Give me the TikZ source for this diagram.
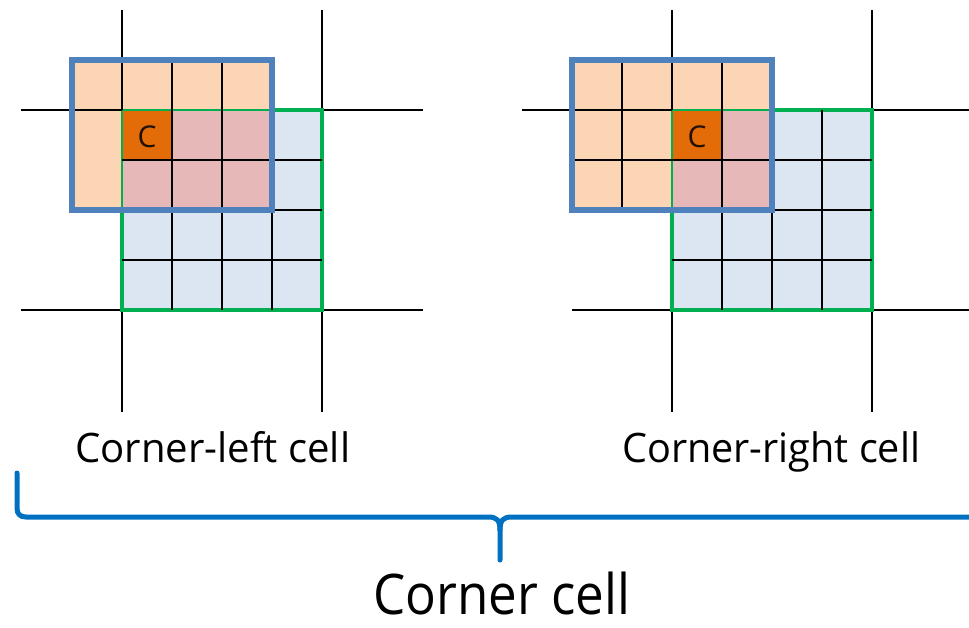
\documentclass[tikz,border=0pt]{standalone}
\usepackage{fontspec}
\setmainfont{Open Sans}
\usepackage{graphicx}
\definecolor{lorange}{HTML}{FCD5B5}
\definecolor{pinkc}{HTML}{E6B9B8}
\definecolor{dorange}{HTML}{E36C09}
\definecolor{lblue}{HTML}{DCE6F2}
\definecolor{bborder}{HTML}{4F81BD}
\definecolor{gborder}{HTML}{00B050}
\definecolor{brace}{HTML}{0070C0}
\tikzset{
  gridline/.style={black, line width=1.8pt},
  blueframe/.style={bborder, line width=5.5pt},
  greenout/.style={gborder, line width=3.5pt},
  greenin/.style={gborder, line width=1.6pt},
  bracestyle/.style={brace, line width=5pt, line cap=round, line join=round},
  lbl/.style={inner sep=0pt, anchor=base west},
  cellc/.style={inner sep=0pt, text=black!85!dorange, font=\fontsize{30}{36}\selectfont},
}
\begin{document}
\begin{tikzpicture}[x=1pt,y=-1pt]
\useasboundingbox (0,0) rectangle (969,628);
% ---------- LEFT PANEL ----------
\draw[gridline] (122,10) -- (122,412);
\draw[gridline] (322,10) -- (322,412);
\draw[gridline] (21,110) -- (423,110);
\draw[gridline] (21,310) -- (423,310);
\fill[lblue] (122,110) rectangle (322,310);
\fill[lorange] (72,60) rectangle (272,210);
\fill[pinkc] (122,110) rectangle (272,210);
\fill[dorange] (122,110) rectangle (172,160);
\draw[greenout] (272,110) -- (322,110) -- (322,310) -- (122,310) -- (122,210);
\draw[greenin] (122,210) -- (122,110) -- (272,110);
\draw[gridline] (122,60) -- (122,110);
\draw[gridline] (72,110) -- (122,110);
\draw[gridline] (172,60) -- (172,310);
\draw[gridline] (222,60) -- (222,310);
\draw[gridline] (272,110) -- (272,310);
\draw[gridline] (122,160) -- (322,160);
\draw[gridline] (122,210) -- (322,210);
\draw[gridline] (122,260) -- (322,260);
\draw[blueframe] (72,60) rectangle (272,210);
\node[cellc] (cl) at (147,137) {C};
% ---------- RIGHT PANEL ----------
\draw[gridline] (672,10) -- (672,412);
\draw[gridline] (872,10) -- (872,412);
\draw[gridline] (522,110) -- (969,110);
\draw[gridline] (572,310) -- (969,310);
\fill[lblue] (672,110) rectangle (872,310);
\fill[lorange] (572,60) rectangle (772,210);
\fill[pinkc] (672,110) rectangle (772,210);
\fill[dorange] (672,110) rectangle (722,160);
\draw[greenout] (772,110) -- (872,110) -- (872,310) -- (672,310) -- (672,210);
\draw[greenin] (672,210) -- (672,110) -- (772,110);
\draw[gridline] (622,60) -- (622,210);
\draw[gridline] (672,60) -- (672,110);
\draw[gridline] (722,60) -- (722,310);
\draw[gridline] (772,110) -- (772,310);
\draw[gridline] (822,110) -- (822,310);
\draw[gridline] (572,110) -- (672,110);
\draw[gridline] (572,160) -- (872,160);
\draw[gridline] (672,210) -- (872,210);
\draw[gridline] (672,260) -- (872,260);
\draw[blueframe] (572,60) rectangle (772,210);
\node[cellc] (cr) at (697,137) {C};
% ---------- LABELS ----------
\node[lbl] (leftlbl) at (75,462) {\resizebox{275pt}{\height}{\fontsize{40.6}{48}\selectfont Corner-left cell}};
\node[lbl] (rightlbl) at (622,462) {\resizebox{298pt}{\height}{\fontsize{40.6}{48}\selectfont Corner-right cell}};
\node[lbl] (bottomlbl) at (373,614) {\resizebox{257pt}{\height}{\fontsize{56}{64}\selectfont Corner cell}};
% ---------- BRACE ----------
\coordinate (bl) at (17,473);
\coordinate (bt) at (500,560);
\coordinate (br) at (969,517);
\draw[bracestyle] (bl) -- (17,508) .. controls (17,514) and (20,517) .. (26,517) -- (488,517)
  .. controls (497,517) and (500,520) .. (500,531) -- (bt);
\draw[bracestyle, line cap=butt] (500,531) .. controls (500,520) and (503,517) .. (512,517) -- (br);
\end{tikzpicture}
\end{document}
